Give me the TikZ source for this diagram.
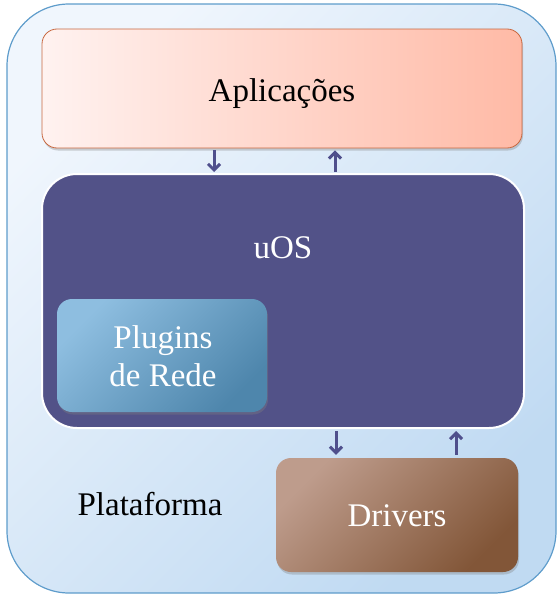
\documentclass[tikz,border=0pt]{standalone}
\usepackage{fontspec}
\setmainfont{Liberation Serif}
\usetikzlibrary{shadings,shadows,arrows.meta}
\definecolor{PlatBorder}{RGB}{94,156,203}
\definecolor{PlatLight}{RGB}{240,246,253}
\definecolor{PlatDark}{RGB}{192,218,242}
\definecolor{AppLight}{RGB}{255,242,240}
\definecolor{AppDark}{RGB}{255,186,166}
\definecolor{AppBorder}{RGB}{200,104,64}
\definecolor{OSCol}{RGB}{82,82,136}
\definecolor{NetLight}{RGB}{142,190,224}
\definecolor{NetDark}{RGB}{78,134,172}
\definecolor{DrvLight}{RGB}{190,156,140}
\definecolor{DrvDark}{RGB}{130,86,56}
\definecolor{LinkCol}{RGB}{79,79,140}

\tikzset{
  layer/.style={rounded corners=15pt,inner sep=0pt,
    drop shadow={opacity=0.35,shadow xshift=1pt,shadow yshift=-2.5pt}},
  lbl/.style={font=\fontsize{33}{38}\selectfont},
  link/.style={LinkCol,line width=3pt,-{Straight Barb[length=6pt,width=12pt,line width=3pt]}}
}

\begin{document}
\begin{tikzpicture}[x=1pt,y=-1pt]
            \useasboundingbox (0,0) rectangle (557,597);

            % outer platform
            \node[draw=PlatBorder,line width=1.2pt,rounded corners=62pt,
                  left color=PlatLight,right color=PlatDark,shading angle=45,
                  minimum width=549pt,minimum height=589pt] (plat) at (281.5,298.5) {};

            \node[layer,draw=AppBorder,line width=0.8pt,left color=AppLight,right color=AppDark,
                  minimum width=480pt,minimum height=119pt] (apl) at (282,88.5) {};
            \node[lbl,anchor=base] (apltext) at (282,101) {Aplicações};

            \node[draw=white,line width=2pt,fill=OSCol,rounded corners=35pt,
                  minimum width=482pt,minimum height=254pt] (uos) at (283,301) {};
            \node[lbl,anchor=base,text=white] (uostext) at (283,258) {uOS};

            \node[layer,left color=NetLight,right color=NetDark,shading angle=45,
                  minimum width=210pt,minimum height=113pt] (net) at (162,355.5) {};
            \node[lbl,anchor=base,text=white] (nettext1) at (163,348) {Plugins};
            \node[lbl,anchor=base,text=white] (nettext2) at (163,386) {de Rede};

            \node[layer,left color=DrvLight,right color=DrvDark,shading angle=45,
                  minimum width=242pt,minimum height=114pt] (drv) at (397,515) {};
            \node[lbl,anchor=base,text=white] (drvtext) at (397,526) {Drivers};

            \node[lbl,anchor=base] (plattext) at (150,515) {Plataforma};

            % links
            \coordinate (a1) at (apl.south -| 214,0);
            \coordinate (u1) at (uos.north -| 214,0);
            \coordinate (a2) at (apl.south -| 335,0);
            \coordinate (u2) at (uos.north -| 335,0);
            \draw[link,shorten <=2pt,shorten >=1pt] (a1) -- (u1);
            \draw[link,shorten <=1pt,shorten >=2pt] (u2) -- (a2);

            \coordinate (u3) at (uos.south -| 336,0);
            \coordinate (d3) at (drv.north -| 336,0);
            \coordinate (u4) at (uos.south -| 456,0);
            \coordinate (d4) at (drv.north -| 456,0);
            \draw[link,shorten <=2pt,shorten >=3pt] (u3) -- (d3);
            \draw[link,shorten <=3pt,shorten >=2pt] (d4) -- (u4);
        \end{tikzpicture}
\end{document}
